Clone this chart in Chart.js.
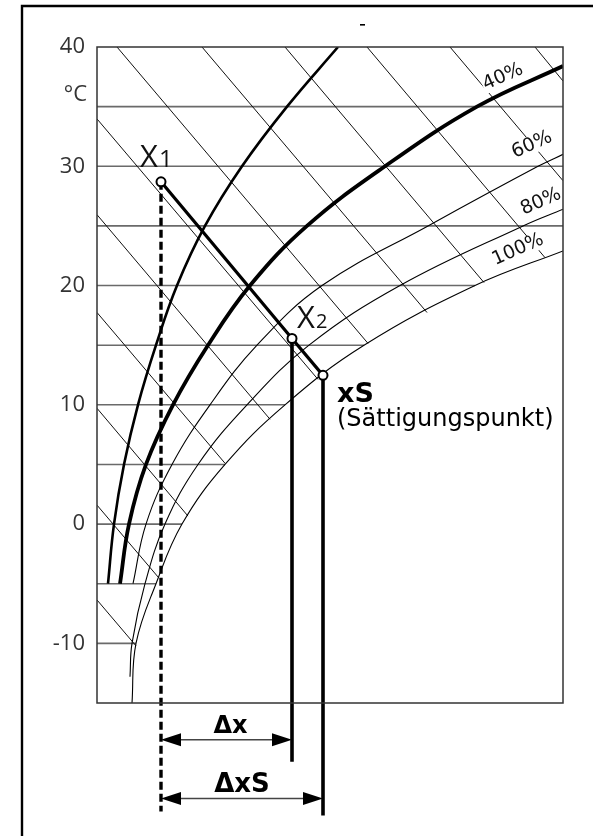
<!DOCTYPE html>
<html>
<head>
<meta charset="utf-8">
<script src="https://cdn.jsdelivr.net/npm/chart.js@4.4.1/dist/chart.umd.min.js"></script>
<style>
  html, body { margin: 0; padding: 0; background: #fff; }
  canvas { display: block; }
</style>
</head>
<body>
<canvas id="hx" width="593" height="836"></canvas>
<script>
// Temperaturachse (°C)
const yTicks = [-10, 0, 10, 20, 30, 40];
const tMin = -15;
const tMax = 40;
// Wassergehalt x (g/kg) – im Bild ohne Beschriftung
const xMin = 0;
const xMax = 18.64;

// Isothermen und ihr Ende an der Sättigungslinie
const isoT   = [-10, -5, 0, 5, 10, 15, 20, 25, 30, 35];
const isoEnd = [1.56, 2.36, 3.40, 5.12, 7.52, 10.68, 15.12, 18.64, 18.64, 18.64];

// Linien gleicher relativer Feuchte (x bei Temperatur t)
const rh20T  = [-5, 0, 5, 10, 15, 20, 25, 30, 35, 40];
const rh20X  = [0.44, 0.68, 1.08, 1.64, 2.36, 3.20, 4.32, 5.80, 7.60, 9.64];
const rh40T  = [-5, 0, 5, 10, 15, 20, 25, 30, 35, 38.4];
const rh40X  = [0.92, 1.28, 1.96, 3.04, 4.44, 6.12, 8.40, 11.52, 15.20, 18.64];
const rh60T  = [-5, 0, 5, 10, 15, 20, 25, 30, 31.0];
const rh60X  = [1.44, 1.96, 3.00, 4.52, 6.40, 9.00, 13.24, 17.64, 18.64];
const rh80T  = [-12.8, -10, -5, 0, 5, 10, 15, 20, 25, 26.4];
const rh80X  = [1.32, 1.40, 1.92, 2.72, 4.04, 6.00, 8.48, 12.12, 17.04, 18.64];
const rh100T = [-15, -10, -5, 0, 5, 10, 15, 20, 22.9];
const rh100X = [1.40, 1.56, 2.36, 3.40, 5.12, 7.52, 10.68, 15.12, 18.64];

// Linien gleicher Enthalpie (Anfang am Rand, Ende an der Sättigungslinie)
const enthStartX = [0, 0, 0, 0, 0, 0, 0.80, 4.20, 7.52, 10.80, 14.12, 17.52];
const enthStartT = [33.97, 25.94, 17.74, 9.71, 1.59, -6.36, 40, 40, 40, 40, 40, 40];
const enthEndX   = [8.84, 6.92, 5.12, 3.64, 2.46, 1.56, 10.84, 13.20, 15.48, 17.92, 18.64, 18.64];
const enthEndT   = [12.13, 8.79, 5.10, 0.67, -4.48, -10.21, 15.15, 17.74, 20.25, 22.34, 28.79, 37.15];

// Zustandspunkte X1, X2, xS
const procNames = ['X1', 'X2', 'xS'];
const procX = [2.56, 7.80, 9.04];
const procT = [28.70, 15.56, 12.47];
// Lote nach unten (bis t) und Bemaßungspfeile
const dropT = [-24.10, -19.92, -24.44];
const arrowT = [-18.08, -23.01];
const arrowLabels = ['Δx', 'ΔxS'];

// Beschriftung der Feuchtelinien
const rhLabels = ['40%', '60%', '80%', '100%'];
const rhLabelX = [16.24, 17.40, 17.76, 16.84];
const rhLabelT = [37.49, 31.80, 27.03, 23.01];

const toPts = (xs, ts) => xs.map((x, i) => ({ x, y: ts[i] }));

const datasets = [];

// Punkte oben
datasets.push({
    data: toPts(procX, procT), showLine: false,
    pointRadius: 4.5, pointBackgroundColor: '#fff', pointBorderColor: '#000', pointBorderWidth: 2,
    order: 0
});
// Zustandsänderung X1 -> X2 -> xS
datasets.push({
    data: toPts(procX, procT), showLine: true,
    borderColor: '#000', borderWidth: 3.2, pointRadius: 0, order: 1
});
// Lote
procX.forEach((x, i) => {
    datasets.push({
        data: [{ x, y: procT[i] }, { x, y: dropT[i] }], showLine: true,
        borderColor: '#000', borderWidth: i === 0 ? 3.4 : 3.6,
        borderDash: i === 0 ? [8, 4] : [],
        pointRadius: 0, clip: false, order: 2
    });
});
// Feuchtelinien
[
    [rh20X, rh20T, 2.6],
    [rh40X, rh40T, 3.8],
    [rh60X, rh60T, 1.1],
    [rh80X, rh80T, 1.1],
    [rh100X, rh100T, 1.1]
].forEach(([xs, ts, w]) => {
    datasets.push({
        data: toPts(xs, ts), showLine: true, tension: 0.4,
        borderColor: '#000', borderWidth: w, pointRadius: 0, order: 3
    });
});
// Enthalpie
enthStartX.forEach((x, i) => {
    datasets.push({
        data: [{ x, y: enthStartT[i] }, { x: enthEndX[i], y: enthEndT[i] }], showLine: true,
        borderColor: '#111', borderWidth: 1, pointRadius: 0, order: 4
    });
});
// Isothermen
isoT.forEach((t, i) => {
    datasets.push({
        data: [{ x: xMin, y: t }, { x: isoEnd[i], y: t }], showLine: true,
        borderColor: '#6a6a6a', borderWidth: 1.6, pointRadius: 0, order: 5
    });
});

const hxDecor = {
    id: 'hxDecor',
    beforeDraw(chart) {
        const { ctx } = chart;
        ctx.save();
        ctx.strokeStyle = '#000';
        ctx.lineWidth = 2.4;
        ctx.beginPath();
        ctx.moveTo(22, chart.height);
        ctx.lineTo(22, 6);
        ctx.lineTo(chart.width, 6);
        ctx.stroke();
        ctx.fillStyle = '#000';
        ctx.fillRect(360, 24, 5, 1.6);
        ctx.restore();
    },
    afterDatasetsDraw(chart) {
        const { ctx, chartArea: a } = chart;
        const sx = chart.scales.x, sy = chart.scales.y;
        ctx.save();

        // Feuchte-Beschriftung
        rhLabels.forEach((txt, i) => {
            ctx.save();
            ctx.translate(sx.getPixelForValue(rhLabelX[i]), sy.getPixelForValue(rhLabelT[i]));
            ctx.rotate(-24 * Math.PI / 180);
            ctx.font = '19px "DejaVu Sans"';
            const w = ctx.measureText(txt).width;
            ctx.fillStyle = '#fff';
            ctx.fillRect(-w / 2 - 1, -9, w + 2, 18);
            ctx.fillStyle = '#111';
            ctx.textAlign = 'center';
            ctx.textBaseline = 'middle';
            ctx.fillText(txt, 0, 0);
            ctx.restore();
        });

        // Rahmen
        ctx.strokeStyle = '#333';
        ctx.lineWidth = 1.5;
        ctx.strokeRect(a.left, a.top, a.right - a.left, a.bottom - a.top);

        // °C
        ctx.fillStyle = '#333';
        ctx.font = '22px "Open Sans"';
        ctx.textAlign = 'right';
        ctx.textBaseline = 'alphabetic';
        ctx.fillText('°C', a.left - 10, 101);

        // Pfeile Δx, ΔxS
        const xa = sx.getPixelForValue(procX[0]);
        arrowT.forEach((t, i) => {
            const xb = sx.getPixelForValue(procX[i + 1]);
            const y = sy.getPixelForValue(t);
            const L = 20, H = 6.5;
            ctx.strokeStyle = '#444';
            ctx.lineWidth = 1.5;
            ctx.beginPath();
            ctx.moveTo(xa + L, y);
            ctx.lineTo(xb - L, y);
            ctx.stroke();
            ctx.fillStyle = '#000';
            ctx.beginPath();
            ctx.moveTo(xa, y); ctx.lineTo(xa + L, y - H); ctx.lineTo(xa + L, y + H); ctx.closePath();
            ctx.moveTo(xb, y); ctx.lineTo(xb - L, y - H); ctx.lineTo(xb - L, y + H); ctx.closePath();
            ctx.fill();
            ctx.font = (i === 0 ? 'bold 24px' : 'bold 26px') + ' "DejaVu Sans"';
            ctx.textAlign = 'center';
            ctx.fillText(arrowLabels[i], (xa + xb) / 2 + (i === 0 ? 4 : 0), y - 7);
        });

        // Punktbeschriftung
        const p = procX.map((x, i) => [sx.getPixelForValue(x), sy.getPixelForValue(procT[i])]);
        ctx.fillStyle = '#111';
        ctx.textAlign = 'left';
        const sub = (x, y, big, small, sizeSmall) => {
            ctx.font = '31px "Open Sans"';
            ctx.fillText(big, x, y);
            const w = ctx.measureText(big).width;
            ctx.font = sizeSmall + 'px "Open Sans"';
            ctx.fillText(small, x + w + 1, y);
        };
        sub(p[0][0] - 21, p[0][1] - 15, procNames[0][0], procNames[0][1], 24);
        sub(p[1][0] + 5, p[1][1] - 11, procNames[1][0], procNames[1][1], 20);
        ctx.fillStyle = '#000';
        ctx.font = 'bold 27px "DejaVu Sans"';
        ctx.fillText(procNames[2], p[2][0] + 14, p[2][1] + 27);
        ctx.font = '24px "DejaVu Sans"';
        ctx.fillText('(Sättigungspunkt)', p[2][0] + 14, p[2][1] + 51);

        ctx.restore();
    }
};

new Chart(document.getElementById('hx'), {
    type: 'scatter',
    data: { datasets },
    options: {
        responsive: false,
        devicePixelRatio: 1,
        animation: false,
        layout: { padding: { left: 0, top: 47, right: 30, bottom: 133 } },
        plugins: { legend: { display: false }, tooltip: { enabled: false } },
        scales: {
            x: { type: 'linear', min: xMin, max: xMax, display: false },
            y: {
                type: 'linear', min: tMin, max: tMax,
                grid: { display: false, drawTicks: false },
                border: { display: false },
                ticks: { color: '#333', font: { family: '"Open Sans"', size: 22 }, padding: 12 },
                afterBuildTicks: s => { s.ticks = yTicks.map(v => ({ value: v })); },
                afterFit: s => { s.width = 97; }
            }
        }
    },
    plugins: [hxDecor]
});
</script>
</body>
</html>
